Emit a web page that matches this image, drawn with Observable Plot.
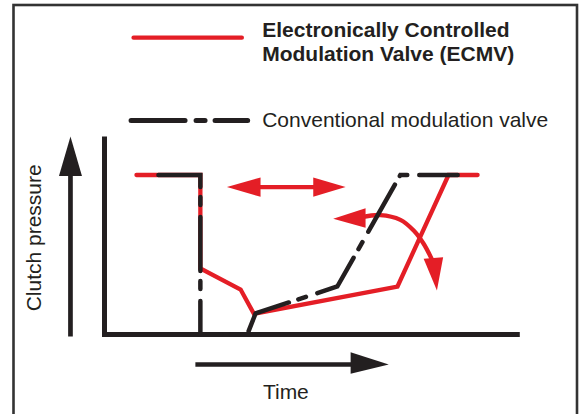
<!DOCTYPE html>
<html>
<head>
<meta charset="utf-8">
<script src="https://cdn.jsdelivr.net/npm/d3@7"></script>
<script src="https://cdn.jsdelivr.net/npm/@observablehq/plot@0.6"></script>
<style>
  html, body { margin: 0; padding: 0; background: #fff; }
</style>
</head>
<body>
<div id="chart"></div>
<script>
// ---- Series (time units 0..100 along the time axis, pressure units 0..100 = high plateau)
const ecmvTime     = [7.7, 23.1, 23.1, 32.8, 36.0, 70.6, 82.9, 89.9];
const ecmvPressure = [100, 100, 41.4, 28.2, 13.0, 30.1, 100, 100];
const convTime     = [13.0, 23.1, 23.1, 34.4, 36.4, 56.1, 71.3, 85.1];
const convPressure = [100, 100, 0, 0, 13.2, 30.1, 100, 100];

// ---- Text labels
const legendLabels = ["Electronically Controlled", "Modulation Valve (ECMV)", "Conventional modulation valve"];
const legendWeights = ["bold", "bold", "normal"];
const legendTextT = [38.0, 38.0, 38.0];
const legendTextP = [186.8, 171.3, 130.4];
const axisLabels = ["Clutch pressure", "Time"];
const axisLabelT = [-15.42, 43.7];
const axisLabelP = [60.6, -40.3];
const axisLabelRotate = [-90, 0];

// ---- Legend swatches
const legendRedT = [7.0, 33.1];
const legendRedP = [186.1, 186.1];
const legendDashT = [6.4, 34.5];
const legendDashP = [134.2, 134.2];

// ---- Axis lines (t1, p1, t2, p2)
const axisT1 = [0, -0.6];
const axisP1 = [-1.57, 0];
const axisT2 = [0, 100.07];
const axisP2 = [124.1, 0];

// ---- Arrow shafts (t1, p1, t2, p2)
const blackShaftT1 = [-8.2, 21.9];
const blackShaftP1 = [-1.25, -18.8];
const blackShaftT2 = [-8.2, 60.0];
const blackShaftP2 = [100, -18.8];
const redShaftT1 = [36.0];
const redShaftP1 = [92.4];
const redShaftT2 = [52.0];
const redShaftP2 = [92.4];

// ---- Arrowheads (triangles)
const blackHeadId = ["up", "up", "up", "right", "right", "right"];
const blackHeadT  = [-8.2, -10.97, -5.43, 68.5, 59.3, 59.3];
const blackHeadP  = [124.1, 99.4, 99.4, -18.8, -11.1, -24.6];
const redHeadId = ["dl", "dl", "dl", "dr", "dr", "dr", "cl", "cl", "cl", "cd", "cd", "cd"];
const redHeadT  = [29.5, 37.6, 37.6, 58.1, 50.3, 50.3, 55.1, 62.9, 62.9, 80.1, 76.9, 81.6];
const redHeadP  = [92.4, 98.5, 86.3, 92.4, 98.5, 86.3, 72.5, 79.2, 66.9, 27.6, 47.5, 48.5];

// ---- Curved arrow path
const arcT = [62.0, 66.5, 71.3, 74.5, 76.9, 79.0];
const arcP = [73.6, 74.9, 71.9, 65.2, 56.9, 46.5];

const RED = "#e41e26";
const INK = "#231f20";

const zip2 = (a, b, extra = {}) => a.map((v, i) => ({t: v, p: b[i], ...Object.fromEntries(Object.entries(extra).map(([k, arr]) => [k, arr[i]]))}));
const links = (t1, p1, t2, p2) => t1.map((v, i) => ({t1: v, p1: p1[i], t2: t2[i], p2: p2[i]}));

const ecmv = zip2(ecmvTime, ecmvPressure);
const conv = zip2(convTime, convPressure);
const legendText = zip2(legendTextT, legendTextP, {label: legendLabels, weight: legendWeights});
const axisText = zip2(axisLabelT, axisLabelP, {label: axisLabels, rotate: axisLabelRotate});
const blackHeads = zip2(blackHeadT, blackHeadP, {id: blackHeadId});
const redHeads = zip2(redHeadT, redHeadP, {id: redHeadId});
const arc = zip2(arcT, arcP);

const chart = Plot.plot({
  width: 585,
  height: 414,
  margin: 0,
  x: {domain: [0, 100], range: [104, 519], axis: null},
  y: {domain: [0, 100], range: [334, 174.5], axis: null},
  style: {fontFamily: "'Liberation Sans', Arial, Helvetica, sans-serif", fontSize: "21px", background: "#fff"},
  marks: [
    Plot.frame({stroke: "#333", strokeWidth: 2.6, insetLeft: 13, insetTop: 4.5, insetRight: 8.5, insetBottom: -6}),
    // axes
    Plot.link(links(axisT1, axisP1, axisT2, axisP2), {x1: "t1", y1: "p1", x2: "t2", y2: "p2", stroke: INK, strokeWidth: 5}),
    // black arrow shafts
    Plot.link(links(blackShaftT1, blackShaftP1, blackShaftT2, blackShaftP2), {x1: "t1", y1: "p1", x2: "t2", y2: "p2", stroke: INK, strokeWidth: 4.7}),
    Plot.line(blackHeads, {x: "t", y: "p", z: "id", fill: INK, stroke: "none"}),
    // red annotations
    Plot.link(links(redShaftT1, redShaftP1, redShaftT2, redShaftP2), {x1: "t1", y1: "p1", x2: "t2", y2: "p2", stroke: RED, strokeWidth: 4.3}),
    Plot.line(arc, {x: "t", y: "p", curve: "catmull-rom", stroke: RED, strokeWidth: 4.3}),
    Plot.line(redHeads, {x: "t", y: "p", z: "id", fill: RED, stroke: "none"}),
    // series
    Plot.line(ecmv, {x: "t", y: "p", stroke: RED, strokeWidth: 4.3, strokeLinejoin: "miter", strokeMiterlimit: 10}),
    Plot.line(conv, {x: "t", y: "p", stroke: INK, strokeWidth: 4.5, strokeLinejoin: "miter", strokeMiterlimit: 10, strokeDasharray: "54,10,8,12"}),
    // legend swatches
    Plot.line(zip2(legendRedT, legendRedP), {x: "t", y: "p", stroke: RED, strokeWidth: 4.3}),
    Plot.line(zip2(legendDashT, legendDashP), {x: "t", y: "p", stroke: INK, strokeWidth: 5, strokeDasharray: "54,11,9,10"}),
    // texts
    Plot.text(legendText.filter(d => d.weight === "bold"), {x: "t", y: "p", text: "label", textAnchor: "start", lineAnchor: "bottom", fontWeight: "bold", fill: INK, fontSize: 21}),
    Plot.text(legendText.filter(d => d.weight !== "bold"), {x: "t", y: "p", text: "label", textAnchor: "start", lineAnchor: "bottom", fill: INK, fontSize: 21}),
    Plot.text(axisText.filter(d => d.rotate === 0), {x: "t", y: "p", text: "label", textAnchor: "middle", lineAnchor: "bottom", fill: INK, fontSize: 21}),
    Plot.text(axisText.filter(d => d.rotate !== 0), {x: "t", y: "p", text: "label", textAnchor: "middle", lineAnchor: "bottom", rotate: -90, fill: INK, fontSize: 21})
  ]
});
document.getElementById("chart").appendChild(chart);
</script>
</body>
</html>
